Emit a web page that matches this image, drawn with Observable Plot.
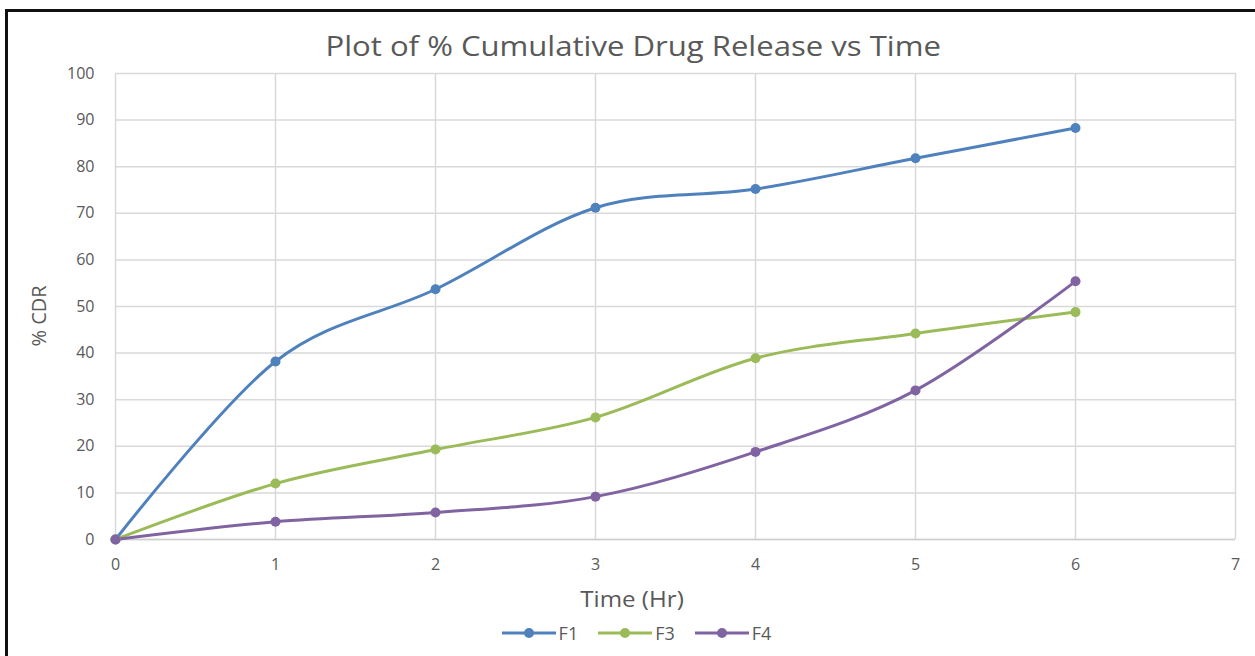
<!DOCTYPE html>
<html>
<head>
<meta charset="utf-8">
<script src="https://cdn.jsdelivr.net/npm/d3@7"></script>
<script src="https://cdn.jsdelivr.net/npm/@observablehq/plot@0.6"></script>
<style>
  html, body { margin: 0; padding: 0; background: #fff; }
  body { width: 1255px; height: 656px; position: relative; overflow: hidden; font-family: "Open Sans", "Noto Sans", sans-serif; }
  #frame { position: absolute; left: 5px; top: 9px; width: 1300px; height: 700px; border-top: 3px solid #111; border-left: 3px solid #111; box-sizing: border-box; }
  #chart { position: absolute; left: 0; top: 0; }
  #title { position: absolute; top: 26px; left: 0; width: 1266px; text-align: center; font-size: 28px; line-height: 38px; color: #595959; }
  #title span, #xlabel span { display: inline-block; }
  #title span { transform: scaleX(1.11); }
  #xlabel { position: absolute; top: 585px; left: 0; width: 1264px; text-align: center; font-size: 21px; line-height: 29px; color: #595959; }
  #xlabel span { transform: scaleX(1.15); }
  #ylabel { position: absolute; left: 38px; top: 316px; transform: translate(-50%, -50%) rotate(-90deg); font-size: 20px; color: #595959; white-space: nowrap; }
  #legend { position: absolute; top: 620px; left: 0; width: 1273px; display: flex; justify-content: center; gap: 20px; font-size: 18px; line-height: 26px; color: #595959; }
  #legend .item { display: flex; align-items: center; gap: 3px; }
</style>
</head>
<body>
<div id="chart"></div>
<div id="frame"></div>
<div id="title"><span>Plot of % Cumulative Drug Release vs Time</span></div>
<div id="xlabel"><span>Time (Hr)</span></div>
<div id="ylabel">% CDR</div>
<div id="legend"></div>
<script>
const time = [0, 1, 2, 3, 4, 5, 6];
const seriesNames = ["F1", "F3", "F4"];
const F1 = [0, 38.2, 53.7, 71.2, 75.2, 81.8, 88.3];
const F3 = [0, 12.0, 19.3, 26.2, 38.9, 44.2, 48.8];
const F4 = [0, 3.8, 5.8, 9.2, 18.8, 32.0, 55.4];
const colors = ["#4f81bd", "#9bbb59", "#8064a2"];
const xTicks = [0, 1, 2, 3, 4, 5, 6, 7];
const yTicks = [0, 10, 20, 30, 40, 50, 60, 70, 80, 90, 100];

const seriesValues = [F1, F3, F4];
const data = [];
seriesNames.forEach((name, i) => {
  time.forEach((t, j) => data.push({ series: name, time: t, value: seriesValues[i][j] }));
});

const plot = Plot.plot({
  width: 1255,
  height: 656,
  marginLeft: 115,
  marginRight: 20,
  marginTop: 73,
  marginBottom: 117,
  style: { fontFamily: "'Open Sans', 'Noto Sans', sans-serif", fontSize: "16px", color: "#595959", background: "transparent" },
  x: { domain: [0, 7], label: null },
  y: { domain: [0, 100], label: null },
  color: { domain: seriesNames, range: colors },
  marks: [
    Plot.gridX(xTicks, { stroke: "#d9d9d9", strokeOpacity: 1, strokeWidth: 1.5 }),
    Plot.gridY(yTicks, { stroke: "#d9d9d9", strokeOpacity: 1, strokeWidth: 1.5 }),
    Plot.ruleY([0], { stroke: "#cfcfcf", strokeWidth: 1.5 }),
    Plot.axisX(xTicks, { tickSize: 0, tickPadding: 19, tickFormat: d3.format("d"), fill: "#595959", fontSize: 16, label: null }),
    Plot.axisY(yTicks, { tickSize: 0, tickPadding: 21, tickFormat: d3.format("d"), fill: "#595959", fontSize: 16, label: null }),
    Plot.line(data, { x: "time", y: "value", z: "series", stroke: "series", strokeWidth: 3, curve: "cardinal", tension: 0 }),
    Plot.dot(data, { x: "time", y: "value", fill: "series", r: 5 })
  ]
});
document.getElementById("chart").appendChild(plot);

const legend = document.getElementById("legend");
seriesNames.forEach((name, i) => {
  const item = document.createElement("div");
  item.className = "item";
  item.innerHTML = `<svg width="54" height="12"><line x1="0" y1="6" x2="54" y2="6" stroke="${colors[i]}" stroke-width="3"/><circle cx="27" cy="6" r="5" fill="${colors[i]}"/></svg><span>${name}</span>`;
  legend.appendChild(item);
});
</script>
</body>
</html>
